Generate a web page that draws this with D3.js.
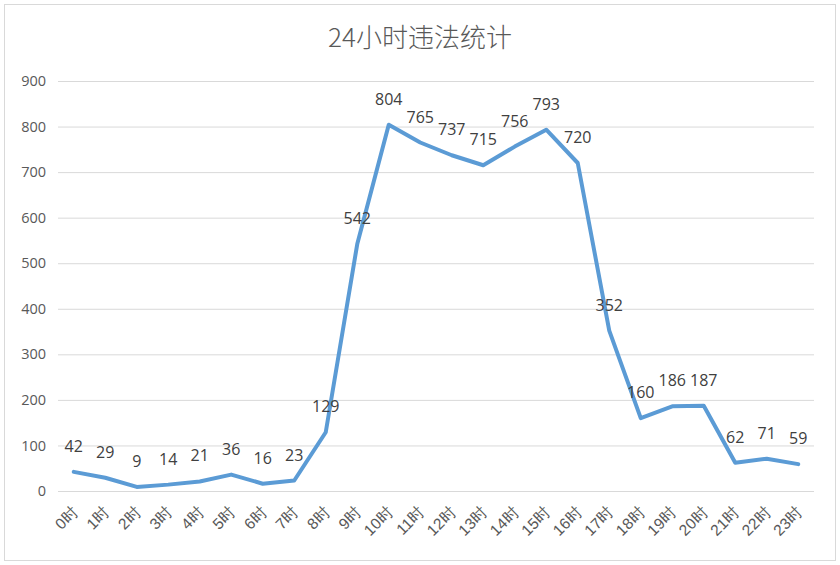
<!DOCTYPE html>
<html>
<head>
<meta charset="utf-8">
<script src="https://cdn.jsdelivr.net/npm/d3@7"></script>
<style>
	body { margin: 0; background: #fff; }
	svg { display: block; font-family: "Noto Sans CJK SC", "Open Sans", sans-serif; }
</style>
</head>
<body>
<div id="chart"></div>
<script>
'use strict';

var hours = ['0时','1时','2时','3时','4时','5时','6时','7时','8时','9时','10时','11时',
	'12时','13时','14时','15时','16时','17时','18时','19时','20时','21时','22时','23时'];
var counts = [42, 29, 9, 14, 21, 36, 16, 23, 129, 542, 804, 765,
	737, 715, 756, 793, 720, 352, 160, 186, 187, 62, 71, 59];
var yTicks = [0, 100, 200, 300, 400, 500, 600, 700, 800, 900];
var title = '24小时违法统计';

var width = 840;
var height = 565;
var margin = {top: 81, right: 26, bottom: 74, left: 58};
var innerW = width - margin.left - margin.right;
var innerH = height - margin.top - margin.bottom;

var svg = d3.select('#chart').append('svg')
	.attr('width', width)
	.attr('height', height);

// outer frame
svg.append('rect')
	.attr('x', 4.5).attr('y', 4.5)
	.attr('width', width - 9).attr('height', height - 9)
	.attr('fill', '#fff')
	.attr('stroke', '#d9d9d9');

svg.append('text')
	.attr('x', width / 2)
	.attr('y', 47)
	.attr('text-anchor', 'middle')
	.attr('fill', '#595959')
	.attr('font-size', 26)
	.attr('font-weight', 300)
	.text(title);

var g = svg.append('g')
	.attr('transform', 'translate(' + margin.left + ',' + margin.top + ')');

var x = d3.scaleBand().domain(hours).range([0, innerW]);
var y = d3.scaleLinear().domain([0, 900]).range([innerH, 0]);

// gridlines
g.append('g').selectAll('line')
	.data(yTicks)
	.join('line')
		.attr('x1', 0).attr('x2', innerW)
		.attr('y1', function(d){ return y(d) + 0.5; })
		.attr('y2', function(d){ return y(d) + 0.5; })
		.attr('stroke', '#d9d9d9')
		.attr('stroke-width', 1);

var yAxis = g.append('g')
	.call(d3.axisLeft(y).tickValues(yTicks).tickSize(0).tickPadding(12));
yAxis.select('.domain').remove();
yAxis.selectAll('text')
	.attr('fill', '#595959')
	.attr('font-size', 14.5)
	.attr('font-family', '"Open Sans", "Noto Sans CJK SC", sans-serif');

var xAxis = g.append('g')
	.attr('transform', 'translate(0,' + innerH + ')')
	.call(d3.axisBottom(x).tickSize(0));
xAxis.select('.domain').remove();
xAxis.selectAll('text')
	.attr('fill', '#595959')
	.attr('font-size', 15.5)
	.attr('text-anchor', 'end')
	.attr('dy', null)
	.attr('transform', 'translate(3,20) rotate(-45)');

var cx = function(d, i){ return x(hours[i]) + x.bandwidth() / 2; };

g.append('path')
	.datum(counts)
	.attr('fill', 'none')
	.attr('stroke', '#5b9bd5')
	.attr('stroke-width', 4)
	.attr('stroke-linejoin', 'round')
	.attr('stroke-linecap', 'round')
	.attr('d', d3.line()
		.x(cx)
		.y(function(d){ return y(d); }));

g.append('g').selectAll('text')
	.data(counts)
	.join('text')
		.attr('x', cx)
		.attr('y', function(d){ return y(d) - 20; })
		.attr('text-anchor', 'middle')
		.attr('fill', '#404040')
		.attr('font-size', 16)
		.attr('font-family', '"Open Sans", "Noto Sans CJK SC", sans-serif')
		.text(function(d){ return d; });
</script>
</body>
</html>
